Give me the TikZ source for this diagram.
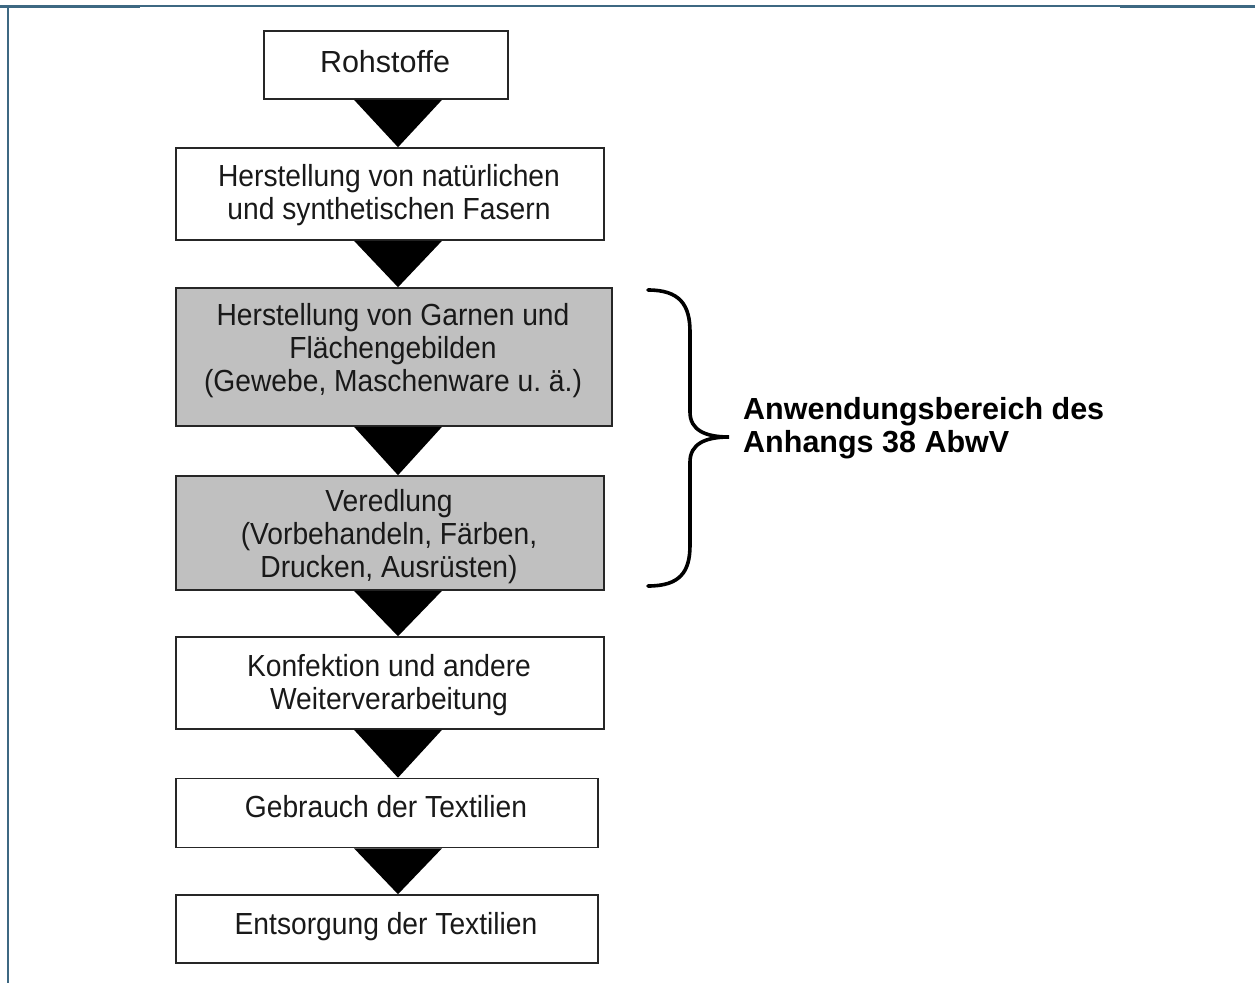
\documentclass[tikz,border=0pt]{standalone}
\usepackage{fontspec}
\setmainfont{Liberation Sans}
\usetikzlibrary{calc}
\definecolor{frame}{HTML}{3D6882}
\definecolor{boxgray}{HTML}{C0C0C0}
\newcommand{\boxtext}[2][0.925]{\scalebox{#1}[1]{\begin{tabular}[t]{@{}c@{}}#2\end{tabular}}}
\begin{document}
\begin{tikzpicture}[x=1pt,y=-1pt,
  stepbox/.style={draw=black!85,line width=1.6pt,inner sep=0pt},
  graybox/.style={stepbox,fill=boxgray},
  steptext/.style={anchor=base,inner sep=0pt,font=\fontsize{30.5}{33}\selectfont,text=black!90},
  flowtri/.style={fill=black},
  bracket/.style={draw=black,line width=3.6pt,line cap=round},
  framel/.style={draw=frame}]
\useasboundingbox (0,0) rectangle (1255,983);
% frame
\draw[framel,line width=3pt] (0,6) -- (140,6);
\draw[framel,line width=1.5pt] (140,6) -- (1120,6);
\draw[framel,line width=3pt] (1120,6) -- (1255,6);
\draw[framel,line width=2.5pt] (8,5) -- (8,983);
% boxes
\node[stepbox,minimum width=244,minimum height=68] (b1) at (386,65) {};
\node[steptext] (t1) at (385,72) {Rohstoffe};
\node[stepbox,minimum width=428,minimum height=92] (b2) at (390,194) {};
\node[steptext] (t2) at (389,186) {\boxtext{Herstellung von natürlichen\\und synthetischen Fasern}};
\node[graybox,minimum width=436,minimum height=138] (b3) at (394,357) {};
\node[steptext] (t3) at (393,325) {\boxtext{Herstellung von Garnen und\\Flächengebilden\\(Gewebe, Maschenware u.\ ä.)}};
\node[graybox,minimum width=428,minimum height=114] (b4) at (390,533) {};
\node[steptext] (t4) at (389,511) {\boxtext{Veredlung\\(Vorbehandeln, Färben,\\Drucken, Ausrüsten)}};
\node[stepbox,minimum width=428,minimum height=92] (b5) at (390,683) {};
\node[steptext] (t5) at (389,676) {\boxtext{Konfektion und andere\\Weiterverarbeitung}};
\node[stepbox,minimum width=422,minimum height=69] (b6) at (387,813) {};
\node[steptext] (t6) at (386,817) {\boxtext{Gebrauch der Textilien}};
\node[stepbox,minimum width=422,minimum height=68] (b7) at (387,929) {};
\node[steptext] (t7) at (386,934) {\boxtext{Entsorgung der Textilien}};
% triangles
\coordinate (ax) at (398,0);
\foreach \a/\b in {b1/b2,b2/b3,b3/b4,b4/b5,b5/b6,b6/b7}{
  \fill[flowtri] ($(\a.south -| ax)+(-44,0)$) -- ($(\a.south -| ax)+(44,0)$) -- (\b.north -| ax) -- cycle;
}
% brace
\draw[bracket] (648,290) .. controls (680,290) and (690,305) .. (690,332) -- (690,412)
  .. controls (690,430) and (705,437) .. (729,437)
  .. controls (705,437) and (690,444) .. (690,462) -- (690,545)
  .. controls (690,572) and (680,586) .. (648,586);
\node[anchor=base west,inner sep=0pt,text=black] (lbl) at (743,419)
  {\fontsize{30.5}{33}\selectfont\bfseries\begin{tabular}[t]{@{}l@{}}Anwendungsbereich des\\Anhangs 38 AbwV\end{tabular}};
\end{tikzpicture}
\end{document}
